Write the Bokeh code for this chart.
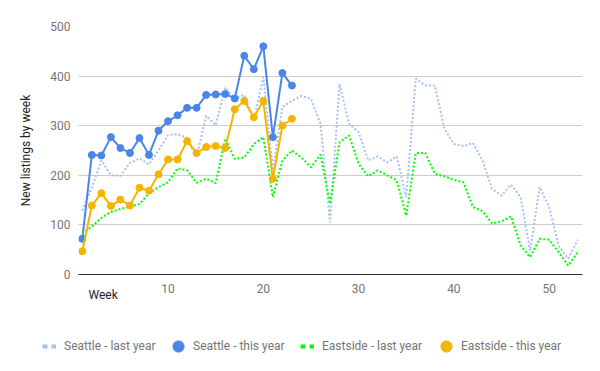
import numpy as np
from bokeh.plotting import figure
from bokeh.layouts import column
from bokeh.models import Range1d, Title, Legend, LegendItem, FixedTicker, ColumnDataSource
from bokeh.embed import file_html
from bokeh.resources import INLINE

weeks_last = list(range(1, 54))
weeks_this = list(range(1, 24))

seattle_last = [129, 175, 230, 200, 199, 225, 234, 222, 250, 281, 283, 275, 236, 320, 301,
                377, 354, 362, 312, 398, 210, 338, 350, 360, 354, 304, 105, 384, 304, 287,
                230, 238, 226, 238, 156, 395, 381, 381, 294, 263, 259, 265, 230, 173, 159,
                181, 156, 48, 176, 136, 58, 32, 70]
eastside_last = [82, 97, 114, 126, 132, 137, 142, 164, 176, 186, 214, 210, 185, 193, 184,
                 274, 233, 236, 263, 277, 156, 230, 250, 236, 216, 242, 143, 267, 280, 223,
                 198, 210, 200, 190, 119, 245, 245, 203, 198, 191, 186, 136, 128, 103, 107,
                 117, 59, 35, 72, 70, 45, 18, 45]
seattle_this = [72, 241, 240, 277, 255, 245, 275, 241, 290, 309, 321, 336, 336, 362, 363,
                364, 355, 441, 414, 460, 277, 406, 381]
eastside_this = [47, 139, 164, 138, 151, 139, 175, 169, 202, 232, 232, 269, 245, 257, 259,
                 255, 333, 350, 317, 350, 193, 300, 314]

x_ticks = [10, 20, 30, 40, 50]
y_ticks = [0, 100, 200, 300, 400, 500]
series_names = ["Seattle - last year", "Seattle - this year", "Eastside - last year", "Eastside - this year"]

C_SL = "#a4c2f4"
C_ST = "#4a86e8"
C_EL = "#00ff00"
C_ET = "#f4b400"
FONT = "Roboto"

p = figure(width=600, height=310, output_backend="svg", toolbar_location=None,
           x_range=Range1d(0.6, 53.5), y_range=Range1d(0, 500),
           min_border_left=78, min_border_right=18, min_border_top=26, min_border_bottom=36)
p.frame_align = False
p.outline_line_color = None
p.background_fill_color = "white"

p.xgrid.grid_line_color = None
p.ygrid.grid_line_color = "#cccccc"
p.ygrid.ticker = FixedTicker(ticks=y_ticks[1:])

p.xaxis.ticker = FixedTicker(ticks=x_ticks)
p.yaxis.ticker = FixedTicker(ticks=y_ticks)
for ax in (p.xaxis, p.yaxis):
    ax.major_tick_in = 0
    ax.major_tick_out = 0
    ax.minor_tick_in = 0
    ax.minor_tick_out = 0
    ax.major_label_text_font = FONT
    ax.major_label_text_font_size = "12px"
    ax.major_label_text_color = "#757575"
p.yaxis.axis_line_color = None
p.xaxis.axis_line_color = "#333333"
p.xaxis.major_label_standoff = 9
p.yaxis.major_label_standoff = 8
p.yaxis.axis_label = "New listings by week"
p.yaxis.axis_label_text_font = FONT
p.yaxis.axis_label_text_font_size = "12px"
p.yaxis.axis_label_text_font_style = "normal"
p.yaxis.axis_label_text_color = "#222222"
p.yaxis.axis_label_standoff = 14

src_last = ColumnDataSource(dict(w=weeks_last, sl=seattle_last, el=eastside_last))
src_this = ColumnDataSource(dict(w=weeks_this, st=seattle_this, et=eastside_this))

p.line("w", "sl", source=src_last, line_color=C_SL, line_width=2, line_dash="2 2")
p.line("w", "st", source=src_this, line_color=C_ST, line_width=2)
p.scatter("w", "st", source=src_this, size=7, color=C_ST)
p.line("w", "el", source=src_last, line_color=C_EL, line_width=2, line_dash="2 2")
p.line("w", "et", source=src_this, line_color=C_ET, line_width=2)
p.scatter("w", "et", source=src_this, size=7, color=C_ET)

week_title = Title(text="Week", align="left", offset=10, standoff=-16, vertical_align="top",
                   text_font=FONT, text_font_size="12px", text_font_style="normal",
                   text_color="#222222")
p.add_layout(week_title, "below")

# legend strip below the chart
lf = figure(width=600, height=61, output_backend="svg", toolbar_location=None,
            x_range=Range1d(0, 1), y_range=Range1d(0, 1),
            x_axis_location=None, y_axis_location=None,
            min_border_left=0, min_border_right=0, min_border_top=0, min_border_bottom=0)
lf.frame_align = False
lf.outline_line_color = None
lf.xgrid.visible = False
lf.ygrid.visible = False

# legend-only renderers: one NaN point each, so nothing is drawn in the strip
dummy = ColumnDataSource(dict(x=np.array([np.nan]), y=np.array([np.nan])))
lg1 = lf.line("x", "y", source=dummy, line_color=C_SL, line_width=4, line_dash="5 4")
lg2 = lf.scatter("x", "y", source=dummy, size=11, color=C_ST)
lg3 = lf.line("x", "y", source=dummy, line_color=C_EL, line_width=4, line_dash="5 4")
lg4 = lf.scatter("x", "y", source=dummy, size=11, color=C_ET)

def make_legend(label, rend, loc, glyph, standoff):
    lg = Legend(items=[LegendItem(label=label, renderers=[rend])], location=loc,
                orientation="horizontal")
    lg.padding = 0
    lg.margin = 0
    lg.spacing = 0
    lg.glyph_width = glyph
    lg.glyph_height = glyph
    lg.label_standoff = standoff
    lg.label_text_font = FONT
    lg.label_text_font_size = "12px"
    lg.label_text_color = "#757575"
    lg.border_line_color = None
    lg.background_fill_alpha = 0
    return lg

lf.add_layout(make_legend(series_names[0], lg1, (42, 18), 14, 8))
lf.add_layout(make_legend(series_names[1], lg2, (164, 11), 28, 1))
lf.add_layout(make_legend(series_names[2], lg3, (300, 18), 14, 8))
lf.add_layout(make_legend(series_names[3], lg4, (432, 11), 28, 1))

layout = column(p, lf, spacing=0)
open("out.html", "w").write(file_html(layout, INLINE))
